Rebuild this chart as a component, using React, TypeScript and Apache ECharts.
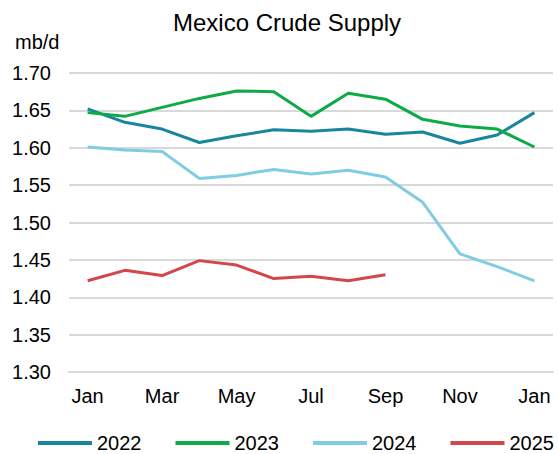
import React, { useEffect, useRef } from "react";
import * as echarts from "echarts";

const months = ["Jan", "Feb", "Mar", "Apr", "May", "Jun", "Jul", "Aug", "Sep", "Oct", "Nov", "Dec", "Jan"];
const s2022 = [1.652, 1.634, 1.625, 1.607, 1.616, 1.624, 1.622, 1.625, 1.618, 1.621, 1.606, 1.617, 1.647];
const s2023 = [1.647, 1.642, 1.654, 1.666, 1.676, 1.675, 1.642, 1.673, 1.665, 1.638, 1.629, 1.625, 1.601];
const s2024 = [1.601, 1.597, 1.595, 1.559, 1.563, 1.571, 1.565, 1.570, 1.561, 1.527, 1.458, 1.441, 1.422];
const s2025 = [1.422, 1.436, 1.429, 1.449, 1.443, 1.425, 1.428, 1.422, 1.430];
const yTicks = { min: 1.3, max: 1.7, step: 0.05 };

const FONT = "'Liberation Sans', Arial, sans-serif";

export default function App() {
  const ref = useRef<HTMLDivElement>(null);
  useEffect(() => {
    if (!ref.current) return;
    const chart = echarts.init(ref.current, undefined, { renderer: "svg" });
    const mk = (name: string, data: number[], color: string) => ({
      name,
      type: "line",
      data,
      showSymbol: false,
      symbol: "none",
      lineStyle: { width: 3, color },
      itemStyle: { color },
    });
    chart.setOption({
      animation: false,
      backgroundColor: "#ffffff",
      textStyle: { fontFamily: FONT },
      title: {
        text: "Mexico Crude Supply",
        left: 173,
        top: 10,
        padding: 0,
        textStyle: { fontSize: 24, fontWeight: "normal", color: "#000", fontFamily: FONT },
      },
      graphic: [
        {
          type: "text",
          left: 15,
          top: 32,
          style: { text: "mb/d", fontSize: 20, fill: "#000", fontFamily: FONT },
        },
      ],
      legend: {
        left: 38,
        top: 433,
        width: 530,
        padding: 0,
        icon: "rect",
        itemWidth: 54,
        itemHeight: 4,
        itemGap: 34,
        textStyle: { fontSize: 20, color: "#000", fontFamily: FONT },
        data: ["2022", "2023", "2024", "2025"],
      },
      grid: { left: 69, right: 5, top: 73, bottom: 82 },
      xAxis: {
        type: "category",
        data: months,
        boundaryGap: true,
        axisLine: { lineStyle: { color: "#d9d9d9", width: 2 } },
        axisTick: { interval: 0, length: 5, lineStyle: { color: "#d9d9d9", width: 2 } },
        axisLabel: { interval: 1, fontSize: 20, color: "#000", margin: 14, fontFamily: FONT },
      },
      yAxis: {
        type: "value",
        min: yTicks.min,
        max: yTicks.max,
        interval: yTicks.step,
        axisLine: { show: false },
        axisTick: { show: false },
        splitLine: { lineStyle: { color: "#d9d9d9", width: 2 } },
        axisLabel: {
          fontSize: 20,
          color: "#000",
          margin: 18,
          fontFamily: FONT,
          formatter: (v: number) => v.toFixed(2),
        },
      },
      series: [
        mk("2022", s2022, "#18869f"),
        mk("2023", s2023, "#0dab47"),
        mk("2024", s2024, "#7fcde0"),
        mk("2025", s2025, "#d2474b"),
      ],
    });
    return () => chart.dispose();
  }, []);
  return <div ref={ref} style={{ width: 558, height: 454, position: "absolute", left: 0, top: 0 }} />;
}
